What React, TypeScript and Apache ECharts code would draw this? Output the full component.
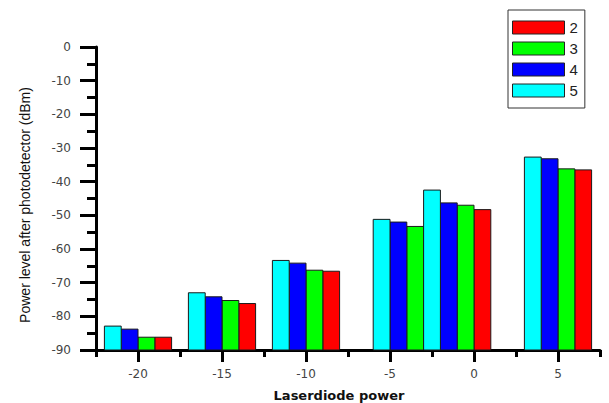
import React, { useEffect, useRef } from "react";
import * as echarts from "echarts";

// Laser diode power positions of each bar group
const groupX = [-20, -15, -10, -4, -1, 5];
// Series values (dBm)
const series2 = [-86.2, -76.2, -66.6, -54.5, -48.3, -36.5];
const series3 = [-86.2, -75.3, -66.3, -53.3, -47.0, -36.2];
const series4 = [-83.8, -74.2, -64.2, -52.0, -46.3, -33.2];
const series5 = [-82.9, -73.0, -63.4, -51.2, -42.5, -32.7];
const seriesNames = ["2", "3", "4", "5"];
const xMajorTicks = [-20, -15, -10, -5, 0, 5];
const xMinorTicks = [-22.5, -17.5, -12.5, -7.5, -2.5, 2.5, 7.5];

const colors = ["#ff0000", "#00ff00", "#0000ff", "#00ffff"];
const offsets = [1.5, 0.5, -0.5, -1.5];
const FONT = "'Liberation Sans', Arial, sans-serif";
const TICKFONT = "'DejaVu Sans', sans-serif";

export default function App() {
  const ref = useRef<HTMLDivElement>(null);
  useEffect(() => {
    if (!ref.current) return;
    const chart = echarts.init(ref.current, null, { renderer: "svg" });
    const all = [series2, series3, series4, series5];
    const series = all.map((vals, si) => ({
      name: seriesNames[si],
      type: "custom",
      xAxisIndex: 0,
      yAxisIndex: 0,
      itemStyle: { color: colors[si], borderColor: "#1a1a1a", borderWidth: 1 },
      data: groupX.map((x, i) => [x, vals[i]]),
      renderItem: (params: any, api: any) => {
        const x = api.value(0) + offsets[si];
        const v = api.value(1);
        const p1 = api.coord([x - 0.5, v]);
        const p2 = api.coord([x + 0.5, -90]);
        return {
          type: "rect",
          shape: { x: p1[0], y: p1[1], width: p2[0] - p1[0], height: p2[1] - p1[1] },
          style: { fill: colors[si], stroke: "#1a1a1a", lineWidth: 1 },
        };
      },
    }));
    chart.setOption({
      animation: false,
      backgroundColor: "#ffffff",
      grid: { left: 96, right: 9, top: 47, bottom: 53, containLabel: false },
      legend: {
        data: seriesNames,
        orient: "vertical",
        left: 508,
        top: 10,
        icon: "rect",
        itemWidth: 52,
        itemHeight: 13,
        itemGap: 6,
        padding: [10, 7, 10, 4],
        borderColor: "#333",
        borderWidth: 1,
        itemStyle: { borderColor: "#222", borderWidth: 1 },
        textStyle: { fontFamily: FONT, fontSize: 15, color: "#222", padding: [0, 0, 0, 0] },
      },
      xAxis: [
        {
          type: "value",
          min: -22.5,
          max: 7.5,
          position: "bottom",
          axisLine: { show: true, onZero: false, lineStyle: { color: "#000", width: 3 } },
          axisTick: { show: true, inside: false, customValues: xMajorTicks, length: 12, lineStyle: { color: "#000", width: 3 } },
          axisLabel: {
            customValues: xMajorTicks,
            margin: 18,
            color: "#444",
            fontFamily: TICKFONT,
            fontSize: 12,
          },
          splitLine: { show: false },
        },
        {
          type: "value",
          min: -22.5,
          max: 7.5,
          position: "bottom",
          offset: 0,
          axisLine: { show: false, onZero: false },
          axisTick: { show: true, inside: false, customValues: xMinorTicks, length: 7, lineStyle: { color: "#000", width: 3 } },
          axisLabel: { show: false },
          splitLine: { show: false },
        },
      ],
      yAxis: {
        type: "value",
        min: -90,
        max: 0,
        interval: 10,
        axisLine: { show: true, onZero: false, lineStyle: { color: "#000", width: 3 } },
        axisTick: { show: true, inside: false, length: 16, lineStyle: { color: "#000", width: 3 } },
        minorTick: { show: true, splitNumber: 2, length: 9, lineStyle: { color: "#000", width: 3 } },
        axisLabel: { margin: 25, color: "#444", fontFamily: TICKFONT, fontSize: 12 },
        splitLine: { show: false },
        minorSplitLine: { show: false },
      },
      graphic: [
        {
          type: "text",
          x: 25,
          y: 205,
          rotation: Math.PI / 2,
          style: {
            text: "Power level after photodetector (dBm)",
            fontFamily: FONT,
            fontSize: 14,
            fill: "#111",
            textAlign: "center",
            textVerticalAlign: "middle",
          },
        },
        {
          type: "text",
          x: 339,
          y: 395,
          style: {
            text: "Laserdiode power",
            fontFamily: "'DejaVu Sans', sans-serif",
            fontWeight: "bold",
            fontSize: 13,
            fill: "#111",
            textAlign: "center",
            textVerticalAlign: "middle",
          },
        },
      ],
      series,
    });
    return () => chart.dispose();
  }, []);
  return (
    <div
      ref={ref}
      style={{ position: "fixed", left: 0, top: 0, width: 609, height: 403 }}
    />
  );
}
